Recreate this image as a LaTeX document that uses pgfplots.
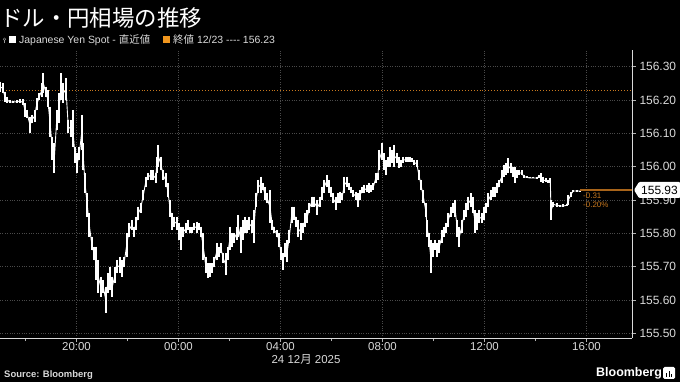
\documentclass[border=0pt]{standalone}
\usepackage{pgfplots}
\pgfplotsset{compat=1.18}
\usepackage{pgfplotstable}
\usepackage{fontspec}
\setmainfont{Liberation Sans}
\newfontfamily\jp{Noto Sans CJK JP}
\definecolor{grd}{HTML}{4A4A4A}
\definecolor{orgA}{HTML}{C8781E}
\definecolor{orgB}{HTML}{A8641A}
\definecolor{orgC}{HTML}{F0961E}
\definecolor{txt}{HTML}{DADADA}

% x = position in the time axis (25.5 units per hour, 0 = 17:00 on 23 Dec), lo/hi = bar range (JPY per USD)
\pgfplotstableread{
x lo hi
0 156.225 156.255
2.7 156.22 156.25
5 156.195 156.225
7.3 156.192 156.21
10 156.19 156.20
13.3 156.19 156.198
16.7 156.192 156.20
20 156.192 156.202
23.3 156.185 156.202
25 156.15 156.19
27.3 156.145 156.17
30 156.10 156.15
32.3 156.13 156.155
34.7 156.135 156.17
36.7 156.17 156.205
39.3 156.20 156.22
41.7 156.21 156.25
43.3 156.22 156.28
45.7 156.21 156.24
47.7 156.18 156.23
50 156.09 156.18
52.3 156.02 156.09
54.3 155.98 156.07
56.7 156.11 156.17
59 156.13 156.22
61 156.20 156.28
63.3 156.19 156.25
66 156.20 156.265
68.3 156.10 156.14
70.7 156.09 156.14
72.7 156.06 156.17
75 156.01 156.06
77.3 155.98 156.04
79.3 156.02 156.06
81.7 156.05 156.155
83.3 155.99 156.07
85 155.92 155.98
87.3 155.85 155.92
89.3 155.79 155.86
91.7 155.75 155.79
94 155.72 155.76
96 155.66 155.76
98.3 155.62 155.72
100.7 155.61 155.67
103.3 155.62 155.66
105.7 155.56 155.64
107.7 155.62 155.68
110 155.63 155.70
112.3 155.61 155.67
115 155.65 155.70
117.3 155.68 155.72
120 155.68 155.73
122.3 155.67 155.72
124.3 155.70 155.73
126.7 155.73 155.80
129 155.79 155.83
131.7 155.81 155.84
134 155.79 155.82
136 155.81 155.85
138.3 155.84 155.88
140.7 155.86 155.89
143.3 155.90 155.93
145.7 155.94 155.97
148.3 155.96 155.98
150.7 155.96 155.99
153.3 155.96 155.99
155.7 155.95 155.98
156.7 155.98 156.03
158.3 156.00 156.065
160.7 155.99 156.03
163.3 155.96 155.99
165.7 155.94 155.98
167.7 155.91 155.95
170 155.85 155.90
172.3 155.81 155.86
174.3 155.82 155.85
176.7 155.81 155.85
179 155.78 155.83
181 155.75 155.82
183.3 155.79 155.82
185.7 155.80 155.83
187.7 155.81 155.84
190 155.80 155.82
192.3 155.80 155.82
194.3 155.81 155.83
196.7 155.80 155.835
199 155.81 155.83
201 155.79 155.82
203.3 155.72 155.80
205.7 155.68 155.73
207.7 155.665 155.71
210 155.67 155.71
212.3 155.68 155.71
214.3 155.70 155.73
216.7 155.72 155.77
219 155.73 155.76
221 155.74 155.77
223.3 155.71 155.74
225.7 155.675 155.74
227.7 155.72 155.76
230 155.75 155.82
232.3 155.76 155.80
234.3 155.77 155.80
236.7 155.78 155.82
238.3 155.79 155.855
240.7 155.74 155.82
242.7 155.78 155.84
245 155.80 155.85
247.3 155.80 155.84
249.3 155.81 155.85
251.7 155.80 155.84
254 155.77 155.87
256 155.88 155.92
258.3 155.92 155.96
260.7 155.92 155.97
262.7 155.93 155.95
265 155.90 155.94
267.3 155.89 155.92
270 155.83 155.93
272.3 155.81 155.84
274.3 155.80 155.82
276.7 155.79 155.81
279 155.76 155.80
281 155.72 155.76
282.7 155.69 155.74
285 155.73 155.77
287.3 155.715 155.78
289.3 155.77 155.81
291.7 155.83 155.88
294 155.84 155.88
296 155.82 155.85
298.3 155.79 155.84
300.7 155.78 155.83
302.7 155.80 155.83
305 155.82 155.86
307.3 155.83 155.87
309.3 155.86 155.89
311.7 155.88 155.91
314 155.88 155.91
317.3 155.855 155.90
320 155.88 155.91
322.3 155.90 155.94
324.3 155.92 155.96
326.7 155.94 155.975
329 155.92 155.96
331 155.91 155.94
333.3 155.89 155.92
335.7 155.87 155.91
337.7 155.89 155.92
340 155.89 155.925
342.3 155.90 155.92
344.3 155.92 155.97
346.7 155.94 155.97
349 155.93 155.95
351 155.92 155.94
353.3 155.91 155.93
355.7 155.90 155.925
357.7 155.88 155.92
360 155.90 155.93
362.3 155.92 155.94
364.3 155.92 155.945
366.7 155.925 155.945
369 155.92 155.95
371 155.925 155.945
373.3 155.93 155.95
375.7 155.95 155.98
377.7 155.96 155.98
379.3 155.99 156.05
381.7 156.02 156.07
384 155.99 156.04
386 155.975 156.02
388.3 156.00 156.03
390 156.00 156.06
392.3 156.01 156.05
394.3 156.00 156.065
396.7 156.01 156.04
399 155.995 156.03
401 156.00 156.02
403.3 156.01 156.03
405.7 156.015 156.03
407.7 156.015 156.03
410 156.015 156.03
412.3 156.015 156.025
414.3 156.005 156.02
416.7 156.00 156.02
419 155.96 155.99
421 155.93 155.96
423.3 155.89 155.93
425.7 155.85 155.89
427.3 155.79 155.84
429 155.76 155.80
430.7 155.68 155.78
432.7 155.73 155.77
435 155.75 155.78
437.3 155.73 155.77
439.3 155.74 155.78
441.7 155.77 155.81
444 155.79 155.82
446 155.80 155.83
448.3 155.82 155.86
450.7 155.85 155.88
452.7 155.86 155.89
455 155.85 155.90
457.3 155.79 155.84
459.3 155.76 155.82
461.7 155.80 155.84
464 155.84 155.87
466 155.85 155.89
468.3 155.87 155.91
470.7 155.88 155.92
472.7 155.86 155.91
475 155.80 155.87
477.3 155.81 155.86
479.3 155.83 155.87
481.7 155.83 155.86
484 155.84 155.88
486 155.86 155.89
488.3 155.88 155.92
490.7 155.90 155.93
492.7 155.91 155.94
495 155.91 155.94
497.3 155.92 155.95
499.3 155.94 155.96
501.7 155.95 155.99
504 155.97 156.005
506 155.975 156.01
508.3 155.98 156.025
510.7 155.98 156.01
512.7 155.97 156.00
515 155.95 156.00
517.3 155.965 155.99
519.3 155.975 155.99
521.7 155.975 155.99
524 155.965 155.975
526.7 155.965 155.972
530 155.965 155.97
533.3 155.965 155.97
536.7 155.964 155.97
539 155.965 155.975
541 155.955 155.98
543.3 155.95 155.97
545.7 155.955 155.965
548.3 155.952 155.96
550.3 155.95 155.965
551 155.84 155.90
553.3 155.88 155.895
556.7 155.88 155.89
560 155.88 155.885
563.3 155.88 155.887
566.7 155.882 155.887
568.3 155.885 155.915
571 155.91 155.925
573.3 155.925 155.93
576.7 155.925 155.93
580 155.925 155.928
}\usdjpy

\begin{document}
\begin{tikzpicture}
\fill[black] (0,0) rectangle (680bp,382bp);
\useasboundingbox (0,0) rectangle (680bp,382bp);
% y axis shows price - 155 internally; labels give the full price
\begin{axis}[
  at={(0bp,44bp)}, anchor=south west,
  width=632bp, height=288bp, scale only axis,
  xmin=0, xmax=632, ymin=0.486, ymax=1.35,
  axis x line*=bottom, axis y line*=right,
  axis line style={white!85!black, line width=0.8pt},
  xtick={76.5,178.5,280.5,382.5,484.5,586.5},
  xticklabels={20:00,00:00,04:00,08:00,12:00,16:00},
  minor xtick={25.5,127.5,229.5,331.5,433.5,535.5},
  ytick={0.5,0.6,0.7,0.8,0.9,1.0,1.1,1.2,1.3},
  yticklabels={155.50,155.60,155.70,155.80,155.90,156.00,156.10,156.20,156.30},
  grid=major,
  major grid style={grd, dotted, line width=0.7pt},
  tick style={white!70!black, line width=0.6pt},
  tick align=outside, major tick length=4bp, minor tick length=3bp,
  ticklabel style={font=\fontsize{12}{12}\selectfont, text=txt},
  xticklabel style={yshift=3bp, font=\fontsize{11.5}{11.5}\selectfont},
  clip=false,
]
\addplot[orgA, dotted, line width=0.9pt] coordinates {(0,1.23) (632,1.23)};
\addplot[white, line width=0.9pt] table[x=x, y expr={(\thisrow{lo}+\thisrow{hi})/2-155}] {\usdjpy};
\addplot[draw=none, mark=none, error bars/.cd, y dir=minus, y explicit, error mark=none,
  error bar style={draw=white, line width=1.9pt}]
  table[x=x, y expr={\thisrow{hi}-155}, y error minus expr={\thisrow{hi}-\thisrow{lo}}] {\usdjpy};
\addplot[orgB, line width=1.1pt] coordinates {(580,0.93) (632,0.93)};
\node[anchor=west, inner sep=0, text=orgA, font=\fontsize{8}{8}\selectfont] at (axis cs:583,0.914) {-0.31};
\node[anchor=west, inner sep=0, text=orgA, font=\fontsize{8}{8}\selectfont] at (axis cs:583,0.887) {-0.20\%};
\coordinate (tag) at (axis cs:632,0.93);
\end{axis}
% last-price tag
\fill[white, rounded corners=1bp] (tag) ++(2bp,0bp) -- ++(5bp,8bp) -- ++(41bp,0bp) -- ++(0bp,-16bp) -- ++(-41bp,0bp) -- cycle;
\node[text=black, inner sep=0, font=\fontsize{12}{12}\selectfont] at ([xshift=27.5bp]tag) {155.93};
% title and legend
\node[anchor=west, inner sep=0, text=white, font=\jp\fontsize{22.5}{22.5}\selectfont] at (0bp,363.5bp) {ドル・円相場の推移};
\draw[white!60!black, line width=0.5pt] (4.5bp,338.5bp) -- (4.5bp,341.5bp);
\draw[white!60!black, line width=0.5pt] (4.5bp,342.8bp) circle (1.3bp);
\fill[white] (9bp,338.5bp) rectangle (16bp,345.5bp);
\node[anchor=west, inner sep=0, text=txt, font=\fontsize{10.5}{10.5}\selectfont] at (19bp,342bp) {Japanese Yen Spot - {\jp 直近値}};
\fill[orgC] (163bp,338.5bp) rectangle (170bp,345.5bp);
\node[anchor=west, inner sep=0, text=txt, font=\fontsize{10.5}{10.5}\selectfont] at (173bp,342bp) {{\jp 終値} 12/23 {-}{-}{-}{-} 156.23};
% bottom texts
\node[anchor=center, inner sep=0, text=txt, font=\fontsize{11.5}{11.5}\selectfont] at (306bp,22.5bp) {24 12{\jp 月} 2025};
\node[anchor=west, inner sep=0, text=txt, font=\bfseries\fontsize{9.5}{9.5}\selectfont] at (4bp,7bp) {Source: Bloomberg};
\node[anchor=west, inner sep=0, text=white, font=\bfseries\fontsize{12.5}{12.5}\selectfont] at (596bp,9bp) {Bloomberg};
\fill[white, rounded corners=1.5bp] (663bp,3bp) rectangle (675bp,15bp);
\fill[black] (666bp,5bp) rectangle (667.3bp,9bp);
\fill[black] (668.5bp,5bp) rectangle (669.8bp,11bp);
\fill[black] (671bp,5bp) rectangle (672.3bp,8bp);
\end{tikzpicture}
\end{document}
